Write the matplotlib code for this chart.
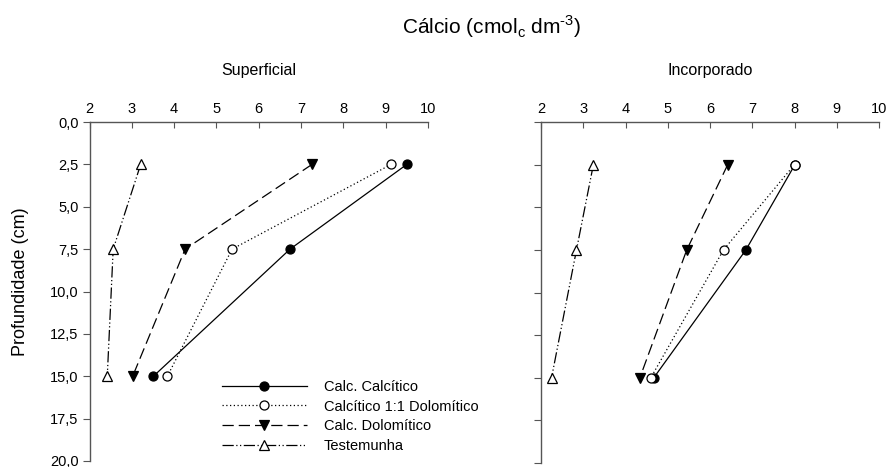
import matplotlib
matplotlib.use('Agg')
import matplotlib.pyplot as plt

plt.rcParams['font.family'] = ['Liberation Sans', 'DejaVu Sans']

# profundidade (cm)
depth = [2.5, 7.5, 15.0]

# Superficial
sup_calcitico = [9.50, 6.74, 3.51]
sup_mix = [9.13, 5.37, 3.84]
sup_dolomitico = [7.26, 4.26, 3.02]
sup_testemunha = [3.21, 2.56, 2.42]

# Incorporado
inc_calcitico = [8.01, 6.85, 4.67]
inc_mix = [8.00, 6.32, 4.60]
inc_dolomitico = [6.42, 5.45, 4.34]
inc_testemunha = [3.24, 2.84, 2.25]

labels = ['Calc. Calcítico', 'Calcítico 1:1 Dolomítico', 'Calc. Dolomítico', 'Testemunha']
xticks = [2, 3, 4, 5, 6, 7, 8, 9, 10]
yticks = [0, 2.5, 5, 7.5, 10, 12.5, 15, 17.5, 20]
ytick_labels = ['0,0', '2,5', '5,0', '7,5', '10,0', '12,5', '15,0', '17,5', '20,0']

styles = [
    dict(ls='-', marker='o', mfc='black', mec='black'),
    dict(ls=(0, (1, 2)), marker='o', mfc='white', mec='black'),
    dict(ls=(0, (9, 4)), marker='v', mfc='black', mec='black'),
    dict(ls=(0, (9, 2, 1, 2, 1, 2)), marker='^', mfc='white', mec='black'),
]

W, H = 891, 467
fig = plt.figure(figsize=(W / 100, H / 100), dpi=100)

ax1 = fig.add_axes([89.5 / W, (H - 461) / H, 338.5 / W, 339 / H])
ax2 = fig.add_axes([541 / W, (H - 463) / H, 338 / W, 341 / H])


def draw(ax, series, title):
    lines = []
    for vals, st, lab in zip(series, styles, labels):
        ln, = ax.plot(vals, depth, color='black', lw=0.9, ms=6.5, mew=0.9,
                      label=lab, clip_on=False, **st)
        lines.append(ln)
    ax.set_xlim(2, 10)
    ax.set_ylim(20, 0)
    ax.xaxis.tick_top()
    ax.set_xticks(xticks)
    ax.set_yticks(yticks)
    ax.set_yticklabels(ytick_labels)
    for s in ['right', 'bottom']:
        ax.spines[s].set_visible(False)
    for s in ['top', 'left']:
        ax.spines[s].set_color('#555555')
        ax.spines[s].set_linewidth(1.0)
    ax.tick_params(axis='x', direction='in', length=4, labelsize=10.5,
                   color='#555555', pad=4)
    ax.tick_params(axis='y', direction='out', length=5, labelsize=10.5,
                   color='#555555', pad=3)
    ax.set_title(title, fontsize=11.5, pad=34)
    return lines


lines = draw(ax1, [sup_calcitico, sup_mix, sup_dolomitico, sup_testemunha], 'Superficial')
draw(ax2, [inc_calcitico, inc_mix, inc_dolomitico, inc_testemunha], 'Incorporado')
ax2.set_yticklabels([])

ax1.set_ylabel('Profundidade (cm)', fontsize=13)
ax1.yaxis.set_label_coords(-0.18, 0.53)

fig.text(492 / W, 1 - 27 / H, 'Cálcio (cmol$_\\mathregular{c}$ dm$^\\mathregular{\u20103}$)',
         ha='center', va='center', fontsize=15)

fig.legend(handles=lines, loc='upper left', bbox_to_anchor=(222 / W, 1 - 380 / H),
           frameon=False, fontsize=10.5, handlelength=5.8, handletextpad=1.2,
           labelspacing=0.38, borderpad=0, borderaxespad=0)

fig.savefig('out.png', dpi=100)
